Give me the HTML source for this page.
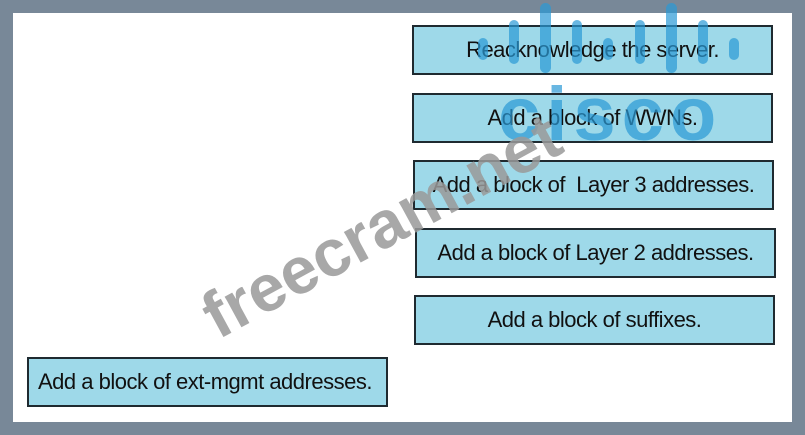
<!DOCTYPE html>
<html><head><style>
html,body{margin:0;padding:0}
body{width:805px;height:435px;background:#788898;position:relative;overflow:hidden;font-family:"Liberation Sans",sans-serif}
.w{position:absolute;left:13px;top:13px;width:779px;height:409px;background:#fff}
.b{position:absolute;box-sizing:border-box;width:361px;height:50px;background:#9ed9e9;border:2px solid #1f2a30;font-size:22px;color:#111;line-height:46px;text-align:center;letter-spacing:-0.5px;white-space:nowrap}
svg{position:absolute;left:0;top:0}
</style></head><body>
<div class="w"></div>
<div class="b" style="left:412px;top:25px">Reacknowledge the server.</div>
<div class="b" style="left:412px;top:93px">Add a block of WWNs.</div>
<div class="b" style="left:413px;top:160px">Add a block of &nbsp;Layer 3 addresses.</div>
<div class="b" style="left:415px;top:228px">Add a block of Layer 2 addresses.</div>
<div class="b" style="left:414px;top:295px">Add a block of suffixes.</div>
<div class="b" style="left:27px;top:357px;text-align:left;padding-left:9px">Add a block of ext-mgmt addresses.</div>
<svg width="805" height="435">
<g fill="#2a9ad6" opacity="0.7">
<rect x="478" y="38" width="10" height="22" rx="5"/>
<rect x="509" y="20" width="10" height="44" rx="5"/>
<rect x="540" y="3" width="11" height="70" rx="5.5"/>
<rect x="572" y="20" width="10" height="44" rx="5"/>
<rect x="603" y="38" width="10" height="22" rx="5"/>
<rect x="635" y="20" width="10" height="44" rx="5"/>
<rect x="666" y="3" width="11" height="70" rx="5.5"/>
<rect x="698" y="20" width="10" height="44" rx="5"/>
<rect x="729" y="38" width="10" height="22" rx="5"/>
<text x="498" y="140" font-family="Liberation Sans" font-weight="bold" font-size="76" letter-spacing="6">cisco</text>
</g>
<text x="218" y="340" transform="rotate(-28.5 218 340)" font-family="Liberation Sans" font-weight="bold" font-size="66" fill="#9a9a9a" opacity="0.85">freecram.net</text>
</svg>
</body></html>
